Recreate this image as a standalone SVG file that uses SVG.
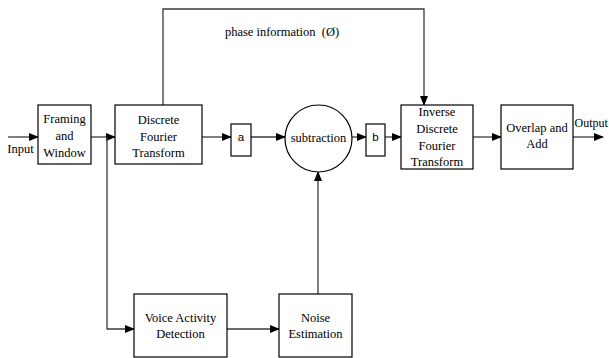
<svg xmlns="http://www.w3.org/2000/svg" width="609" height="358" viewBox="0 0 609 358">
<defs>
<marker id="ah" markerWidth="10" markerHeight="8" refX="9" refY="4" orient="auto" markerUnits="userSpaceOnUse">
<path d="M0,0 L10,4 L0,8 Z" fill="#000"/>
</marker>
<style>
.box{fill:#fff;stroke:#000;stroke-width:1.2}
.ln{fill:none;stroke:#3a3a3a;stroke-width:1.3}
.t{font-family:"Liberation Serif","Times New Roman",serif;font-size:12.5px;fill:#000;text-anchor:middle}
.s{font-family:"Liberation Sans",Arial,sans-serif;font-size:11.5px;fill:#000;text-anchor:middle}
</style>
</defs>
<rect width="609" height="358" fill="#fff"/>
<g id="connectors">
<path class="ln" d="M8,137 H38" marker-end="url(#ah)"/>
<path class="ln" d="M91,137 H115" marker-end="url(#ah)"/>
<path class="ln" d="M107,137 V329 H134" marker-end="url(#ah)"/>
<path class="ln" d="M227,329 H279" marker-end="url(#ah)"/>
<path class="ln" d="M318,294 V172" marker-end="url(#ah)"/>
<path class="ln" d="M202,137 H231" marker-end="url(#ah)"/>
<path class="ln" d="M251,137 H285" marker-end="url(#ah)"/>
<path class="ln" d="M352,137 H366" marker-end="url(#ah)"/>
<path class="ln" d="M385,137 H401" marker-end="url(#ah)"/>
<path class="ln" d="M473,137 H501" marker-end="url(#ah)"/>
<path class="ln" d="M573,137 H603" marker-end="url(#ah)"/>
<path class="ln" d="M163,105 V9 H424 V105" marker-end="url(#ah)"/>
<text class="t" x="282" y="36" xml:space="preserve" style="white-space:pre">phase information  (Ø)</text>
<text class="t" x="20.5" y="153">Input</text>
<text class="t" x="574.5" y="127" style="text-anchor:start;font-size:12px">Output</text>
</g>
<g id="framing">
<rect class="box" x="38" y="105" width="53" height="59"/>
<text class="t" x="64.5" y="123">Framing</text>
<text class="t" x="64.5" y="140">and</text>
<text class="t" x="64.5" y="157">Window</text>
</g>
<g id="dft">
<rect class="box" x="115" y="105" width="87" height="59"/>
<text class="t" x="158.5" y="124">Discrete</text>
<text class="t" x="158.5" y="141">Fourier</text>
<text class="t" x="158.5" y="157">Transform</text>
</g>
<g id="a">
<rect class="box" x="231" y="124" width="20" height="32"/>
<text class="s" x="241" y="141">a</text>
</g>
<g id="subtraction">
<circle class="box" cx="318.5" cy="138.5" r="33.5"/>
<text class="t" x="318.5" y="142">subtraction</text>
</g>
<g id="b">
<rect class="box" x="366" y="124" width="19" height="32"/>
<text class="s" x="375.5" y="141">b</text>
</g>
<g id="idft">
<rect class="box" x="401" y="105" width="72" height="64"/>
<text class="t" x="437" y="116">Inverse</text>
<text class="t" x="437" y="133">Discrete</text>
<text class="t" x="437" y="150">Fourier</text>
<text class="t" x="437" y="166">Transform</text>
</g>
<g id="overlap">
<rect class="box" x="501" y="105" width="72" height="64"/>
<text class="t" x="537" y="132">Overlap and</text>
<text class="t" x="537" y="148">Add</text>
</g>
<g id="vad">
<rect class="box" x="134" y="294" width="93" height="63"/>
<text class="t" x="180.5" y="322">Voice Activity</text>
<text class="t" x="180.5" y="338">Detection</text>
</g>
<g id="noise">
<rect class="box" x="279" y="294" width="73" height="63"/>
<text class="t" x="315.5" y="322">Noise</text>
<text class="t" x="315.5" y="338">Estimation</text>
</g>
</svg>
